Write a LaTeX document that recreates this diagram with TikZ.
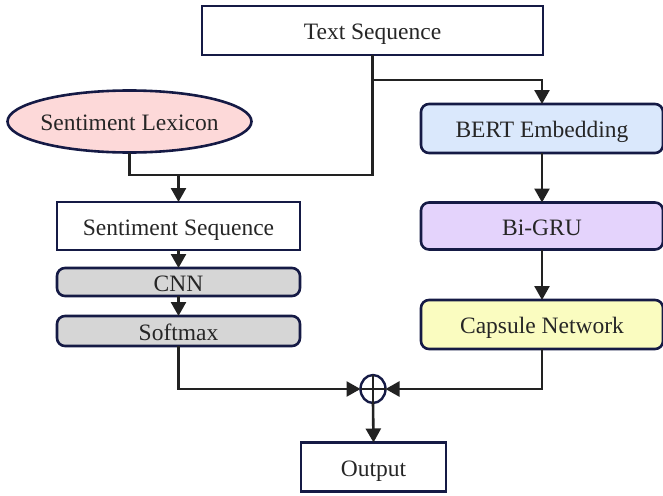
\documentclass[tikz,border=0pt]{standalone}
\usepackage{fontspec}
\setmainfont{Liberation Serif}
\usetikzlibrary{arrows.meta,shapes.geometric}
\definecolor{bord}{HTML}{151A45}
\definecolor{conn}{HTML}{222222}
\definecolor{lexfill}{HTML}{FDD9D9}
\definecolor{bertfill}{HTML}{DAE8FC}
\definecolor{grufill}{HTML}{E4D3FC}
\definecolor{capfill}{HTML}{FAFCC0}
\definecolor{grayfill}{HTML}{D6D6D6}
\tikzset{
  box/.style={draw=bord,line width=2.6pt,rectangle,outer sep=0pt,inner sep=0pt,
    font=\fontsize{23.5}{27}\selectfont,text=black!85,text height=22pt,text depth=4pt},
  plainbox/.style={box,fill=white},
  roundbox/.style={box,rounded corners=8pt},
  conline/.style={draw=conn,line width=2.6pt},
  arr/.style={conline,-{Triangle[length=14pt,width=15pt]}},
}
\begin{document}
\begin{tikzpicture}[x=1pt,y=-1pt]
\useasboundingbox (0,0) rectangle (663,495);
\node[plainbox,minimum width=341,minimum height=49] (ts) at (372.5,30.5) {Text Sequence};
\node[box,ellipse,fill=lexfill,inner xsep=-4pt,minimum width=244,minimum height=62] (lex) at (129.5,121.5) {Sentiment Lexicon};
\node[plainbox,minimum width=243,minimum height=48] (ss) at (178.5,226) {Sentiment Sequence};
\node[roundbox,fill=grayfill,minimum width=243,minimum height=28] (cnn) at (178.5,282) {CNN};
\node[roundbox,fill=grayfill,minimum width=243,minimum height=30] (soft) at (178.5,331) {Softmax};
\node[roundbox,fill=bertfill,minimum width=242,minimum height=49] (bert) at (542,128.5) {BERT Embedding};
\node[roundbox,fill=grufill,minimum width=242,minimum height=47] (gru) at (542,226) {Bi-GRU};
\node[roundbox,fill=capfill,minimum width=242,minimum height=49] (cap) at (542,324.5) {Capsule Network};
\node[plainbox,minimum width=145,minimum height=49] (out) at (373.5,467) {Output};
\node[draw=bord,line width=2.4pt,ellipse,minimum width=25,minimum height=28,inner sep=0pt,outer sep=0pt,fill=white] (sum) at (373,389) {};
\draw[conn,line width=2.4pt] (sum.north) -- (sum.south) (sum.west) -- (sum.east);
\coordinate (j1) at (372.5,80);
\coordinate (m) at (372.5,175);
\draw[arr] (ts.south) -- (j1) -| (bert.north);
\draw[conline] (j1) -- (m) -| (lex.south);
\draw[arr] (ss.north |- m) -- (ss.north);
\draw[arr] (ss.south) -- (cnn.north);
\draw[arr] (cnn.south) -- (soft.north);
\draw[arr] (bert.south) -- (gru.north);
\draw[arr] (gru.south) -- (cap.north);
\draw[arr] (soft.south) |- (sum.west);
\draw[arr] (cap.south) |- (sum.east);
\draw[arr] (sum.south) -- (out.north);
\end{tikzpicture}
\end{document}
